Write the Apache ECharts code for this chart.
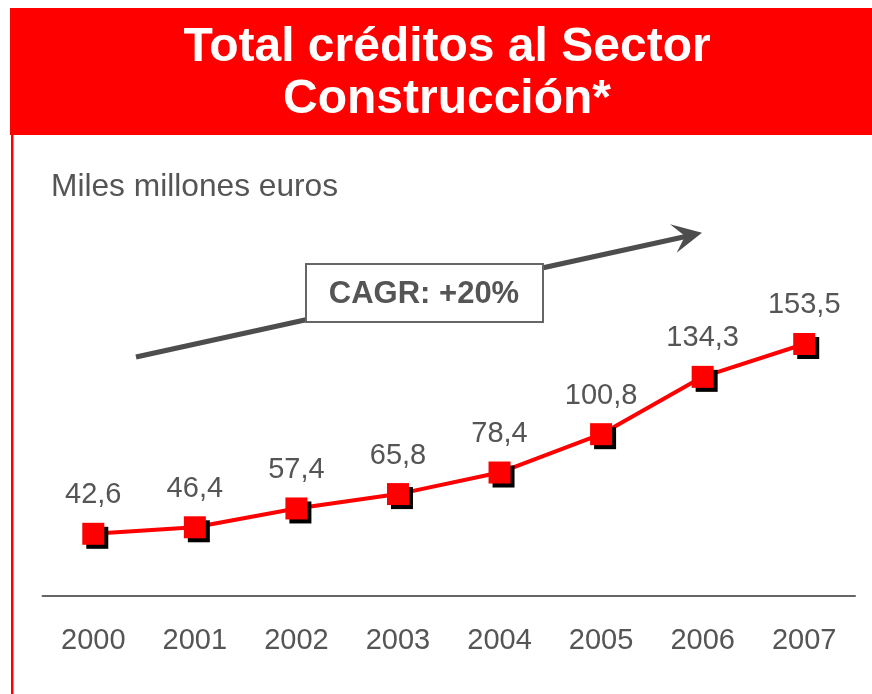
<!DOCTYPE html>
<html>
<head>
<meta charset="utf-8">
<script src="https://cdn.jsdelivr.net/npm/echarts@6/dist/echarts.min.js"></script>
<style>
  html, body { margin: 0; padding: 0; background: #fff; }
  #chart { width: 872px; height: 694px; }
</style>
</head>
<body>
<div id="chart"></div>
<script>
// años y saldo (miles de millones de euros)
var years = ['2000', '2001', '2002', '2003', '2004', '2005', '2006', '2007']
var credits = [42.6, 46.4, 57.4, 65.8, 78.4, 100.8, 134.3, 153.5]

var titleLines = ['Total créditos al Sector', 'Construcción*']
var unitText = 'Miles millones euros'
var cagrText = 'CAGR: +20%'

var grey = '#555'
var red = '#ff0000'

var myChart = echarts.init(document.getElementById('chart'))

var option = {
	animation: false,
	textStyle: { fontFamily: 'Liberation Sans, Arial, sans-serif' },
	grid: {
		left: 42.5,
		right: 17,
		top: 264.4,
		bottom: 87.3
	},
	xAxis: {
		type: 'category',
		data: years,
		offset: -10.7,
		axisLine: { lineStyle: { color: '#666', width: 2 } },
		axisTick: { show: false },
		axisLabel: {
			color: grey,
			fontSize: 29,
			margin: 30
		}
	},
	yAxis: {
		type: 'value',
		min: 0,
		max: 200,
		show: false,
		splitLine: { show: false }
	},
	graphic: [
		// banda roja del título
		{
			type: 'rect',
			shape: { x: 10, y: 8, width: 862, height: 127 },
			style: { fill: red },
			z: 0
		},
		{
			type: 'rect',
			shape: { x: 11, y: 135, width: 2.5, height: 559 },
			style: { fill: red },
			z: 0
		},
		{
			type: 'text',
			x: 447, y: 48,
			style: {
				text: titleLines[0],
				fill: '#fff',
				font: 'bold 48px Liberation Sans, Arial, sans-serif',
				textAlign: 'center',
				textVerticalAlign: 'middle'
			},
			z: 1
		},
		{
			type: 'text',
			x: 447, y: 100,
			style: {
				text: titleLines[1],
				fill: '#fff',
				font: 'bold 48px Liberation Sans, Arial, sans-serif',
				textAlign: 'center',
				textVerticalAlign: 'middle'
			},
			z: 1
		},
		{
			type: 'text',
			x: 51, y: 187,
			style: {
				text: unitText,
				fill: grey,
				font: '31.7px Liberation Sans, Arial, sans-serif',
				textAlign: 'left',
				textVerticalAlign: 'middle'
			}
		},
		// flecha de tendencia
		{
			type: 'polyline',
			shape: { points: [[136, 357], [688, 236]] },
			style: { stroke: '#4d4d4d', lineWidth: 5, fill: null },
			z: 1
		},
		{
			type: 'polygon',
			shape: { points: [[702, 232.7], [670, 224.3], [685, 236], [676.7, 252.7]] },
			style: { fill: '#4d4d4d' },
			z: 1
		},
		{
			type: 'rect',
			shape: { x: 306, y: 264, width: 237, height: 58 },
			style: { fill: '#fff', stroke: '#666', lineWidth: 2 },
			z: 2
		},
		{
			type: 'text',
			x: 424, y: 294,
			style: {
				text: cagrText,
				fill: grey,
				font: 'bold 31px Liberation Sans, Arial, sans-serif',
				textAlign: 'center',
				textVerticalAlign: 'middle'
			},
			z: 3
		}
	],
	series: [{
		type: 'line',
		data: credits,
		symbol: 'rect',
		symbolSize: 22,
		lineStyle: { color: red, width: 4 },
		itemStyle: {
			color: red,
			shadowColor: '#000',
			shadowBlur: 0,
			shadowOffsetX: 4,
			shadowOffsetY: 4
		},
		label: {
			show: true,
			position: 'top',
			distance: 13,
			color: grey,
			fontSize: 29,
			formatter: function (p) {
				return p.value.toFixed(1).replace('.', ',')
			}
		},
		z: 5
	}]
}

myChart.setOption(option)
</script>
</body>
</html>
